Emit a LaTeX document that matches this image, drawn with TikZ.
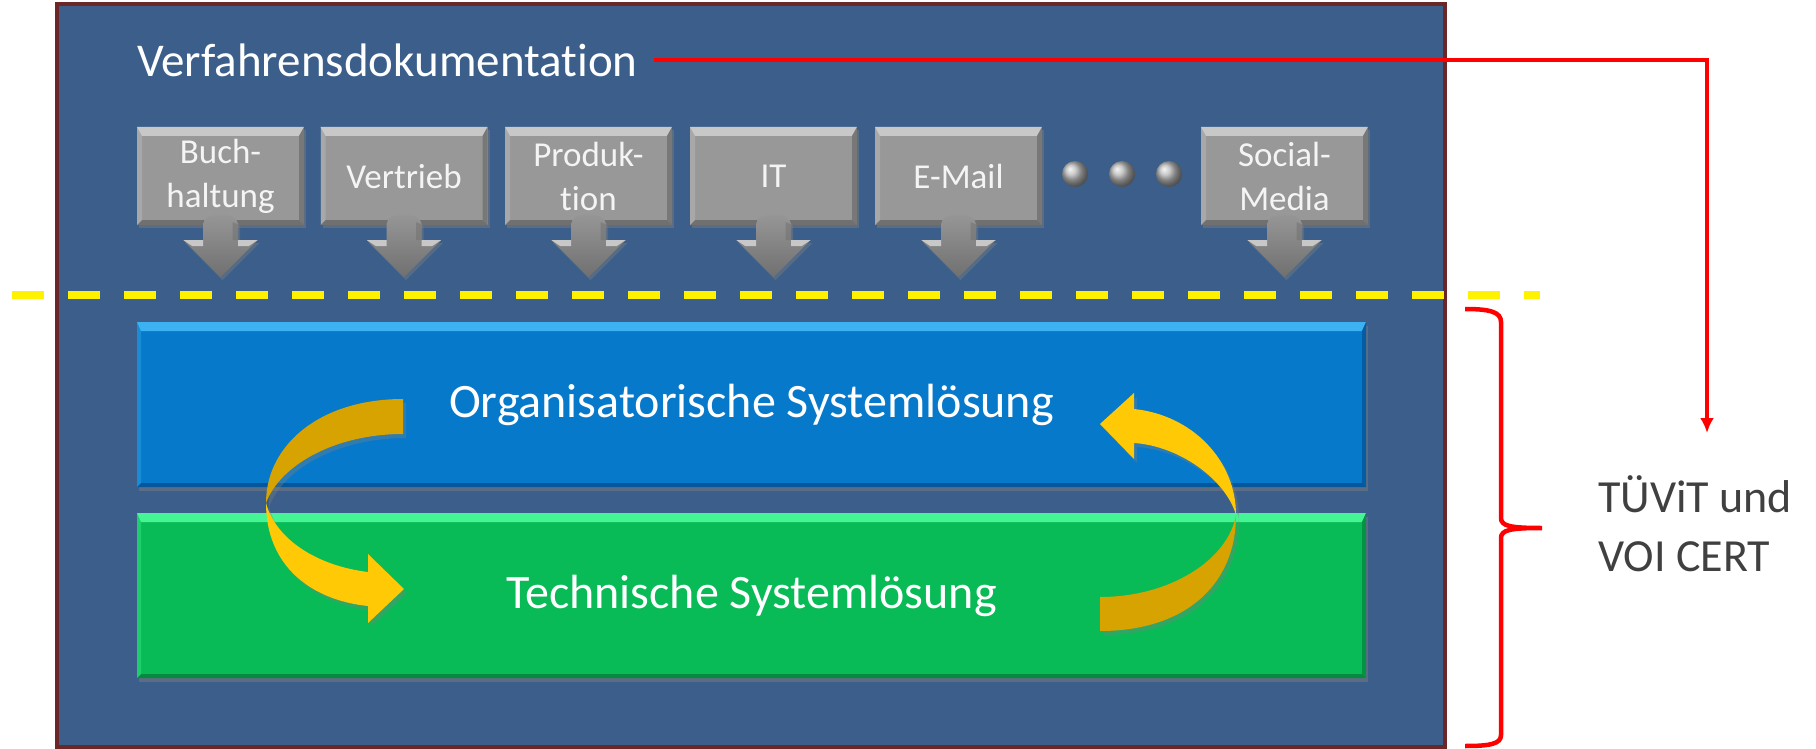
\documentclass[tikz,border=0pt]{standalone}
\usepackage{fontspec}
\setmainfont{Carlito}[Ligatures=NoCommon]
\usetikzlibrary{shadows,arrows.meta,calc}
\definecolor{frameblue}{HTML}{3B5F8A}
\definecolor{framered}{HTML}{6B2727}
\definecolor{gface}{HTML}{989898}
\definecolor{glight}{HTML}{C8C8C8}
\definecolor{gdark}{HTML}{707070}
\definecolor{bface}{HTML}{0679CA}
\definecolor{blight}{HTML}{3CB2F2}
\definecolor{bdark}{HTML}{04579A}
\definecolor{nface}{HTML}{08BB56}
\definecolor{nlight}{HTML}{45F595}
\definecolor{ndark}{HTML}{05893F}
\definecolor{ylight}{HTML}{FFC905}
\definecolor{ydark}{HTML}{D7A300}
\definecolor{textgray}{HTML}{404040}
\definecolor{boxtext}{HTML}{F4F4F4}
\tikzset{
  bevel/.style n args={4}{path picture={
    \fill[#1] (path picture bounding box.north west) -- (path picture bounding box.north east)
      -- ([shift={(-#4,-#3)}]path picture bounding box.north east)
      -- ([shift={(#4,-#3)}]path picture bounding box.north west) -- cycle;
    \fill[#2] (path picture bounding box.south west) -- (path picture bounding box.south east)
      -- ([shift={(-#4,#4)}]path picture bounding box.south east)
      -- ([shift={(#4,#4)}]path picture bounding box.south west) -- cycle;
    \fill[#2, opacity=0.8] (path picture bounding box.north east) -- (path picture bounding box.south east)
      -- ([shift={(-#4,#4)}]path picture bounding box.south east)
      -- ([shift={(-#4,-#3)}]path picture bounding box.north east) -- cycle;
    \fill[#1, opacity=0.35] (path picture bounding box.north west) -- (path picture bounding box.south west)
      -- ([shift={(#4,#4)}]path picture bounding box.south west)
      -- ([shift={(#4,-#3)}]path picture bounding box.north west) -- cycle;
  }},
  framebox/.style={draw=framered, line width=4pt, fill=frameblue, minimum width=1388pt,
    minimum height=743pt, inner sep=0pt},
  graybox/.style={fill=gface, bevel={glight}{gdark}{9pt}{5pt}, minimum width=167pt, minimum height=98pt,
    inner sep=0pt, text=boxtext, align=center, font=\fontsize{35}{44}\selectfont,
    drop shadow={opacity=0.45, shadow xshift=2pt, shadow yshift=-3pt}},
  sysbox/.style={minimum width=1229pt, minimum height=165pt, inner sep=0pt, text=white,
    font=\fontsize{48}{56}\selectfont,
    drop shadow={opacity=0.45, shadow xshift=2pt, shadow yshift=-4pt}},
  dotball/.style={circle, ball color=gray!55!white, minimum size=26pt, inner sep=0pt},
  redline/.style={draw=red, line width=3.5pt},
  yshadow/.style={drop shadow={opacity=0.35, shadow xshift=3pt, shadow yshift=-4pt}},
}
\begin{document}
\begin{tikzpicture}[x=1pt, y=-1pt]
\useasboundingbox (0,0) rectangle (1816,749);

% frame
\node[framebox] (frame) at (751,375.5) {};

% title
\node[anchor=west, inner sep=0pt, inner xsep=16pt, text=white, font=\fontsize{47}{56}\selectfont]
  (title) at (121,60) {Verfahrensdokumentation};

% department boxes
\node[graybox] (b1) at (220.5,176) {Buch-\\haltung};
\node[graybox] (b2) at (404,176) {Vertrieb};
\node[graybox] (b3) at (588.5,176) {Produk-\\tion};
\node[graybox] (b4) at (773.5,176) {IT};
\node[graybox] (b5) at (958.5,176) {E-Mail};
\node[graybox] (b6) at (1284.5,176) {Social-\\Media};

% arrows under boxes
\foreach \b in {b1,b2,b3,b4,b5,b6}{
  \begin{scope}[shift={(\b.south)}]
    \shade[top color=gface, bottom color=gdark, drop shadow={opacity=0.4, shadow xshift=2pt, shadow yshift=-3pt}]
      (-17.5,15) -- (-17.5,-1) .. controls (-17.5,-14) and (17.5,-14) .. (17.5,-1)
      -- (17.5,15) -- (37,15) -- (0,52) -- (-37,15) -- cycle;
    \fill[glight] (-37,15) -- (-17.5,15) -- (-17.5,21) -- (-28,21) -- cycle;
    \fill[glight] (37,15) -- (17.5,15) -- (17.5,21) -- (28,21) -- cycle;
    \fill[gdark, opacity=0.5] (17.5,-1) -- (17.5,15) -- (12,15) -- (12,-3) -- cycle;
  \end{scope}
}

% dots
\node[dotball] (d1) at (1075,174) {};
\node[dotball] (d2) at (1122,174) {};
\node[dotball] (d3) at (1169,174) {};

% yellow dashed separator
\draw[yellow, line width=8pt, dash pattern=on 32pt off 24pt] (12,295) -- (1540,295);

% system boxes
\node[sysbox, fill=bface, bevel={blight}{bdark}{9pt}{4pt}] (org) at (751.5,404.5) {Organisatorische Systemlösung};
\node[sysbox, fill=nface, bevel={nlight}{ndark}{9pt}{4pt}] (tech) at (751.5,595.5) {Technische Systemlösung};

% left curved arrow (org -> tech)
\fill[ydark, yshadow] (403,399) .. controls (320,399) and (266,445) .. (266,503)
  .. controls (280,465) and (335,434) .. (403,434) -- cycle;
\fill[ylight, yshadow] (266,503) .. controls (266,565) and (310,600) .. (368,606)
  -- (368,623) -- (404,589) -- (368,554) -- (368,572)
  .. controls (318,566) and (276,540) .. (266,503) -- cycle;

% right curved arrow (tech -> org)
\fill[ydark, yshadow] (1100,631) .. controls (1185,631) and (1236,585) .. (1236,515)
  .. controls (1228,560) and (1170,597) .. (1100,597) -- cycle;
\fill[ylight, yshadow] (1236,515) .. controls (1236,460) and (1192,415) .. (1134,409)
  -- (1134,393) -- (1100,424) -- (1134,459) -- (1134,443)
  .. controls (1180,446) and (1226,480) .. (1236,515) -- cycle;

% certification label
\node[anchor=west, inner sep=0pt, align=left, text=textgray, font=\fontsize{46}{59}\selectfont]
  (cert) at (1598,523.5) {TÜViT und\\VOI CERT};
\coordinate (certtop) at (1707,433);

% red connector
\draw[redline, -{Latex[length=15pt,width=14pt]}] (title.east) -| (certtop);

% red brace
\draw[draw=red, line width=4.5pt]
  (1465,309) .. controls (1490,309) and (1501,312) .. (1501,322) -- (1501,518)
  .. controls (1501,526) and (1510,528) .. (1542,528)
  .. controls (1510,528) and (1501,530) .. (1501,538) -- (1501,735)
  .. controls (1501,744) and (1490,746) .. (1465,746);
\end{tikzpicture}
\end{document}
